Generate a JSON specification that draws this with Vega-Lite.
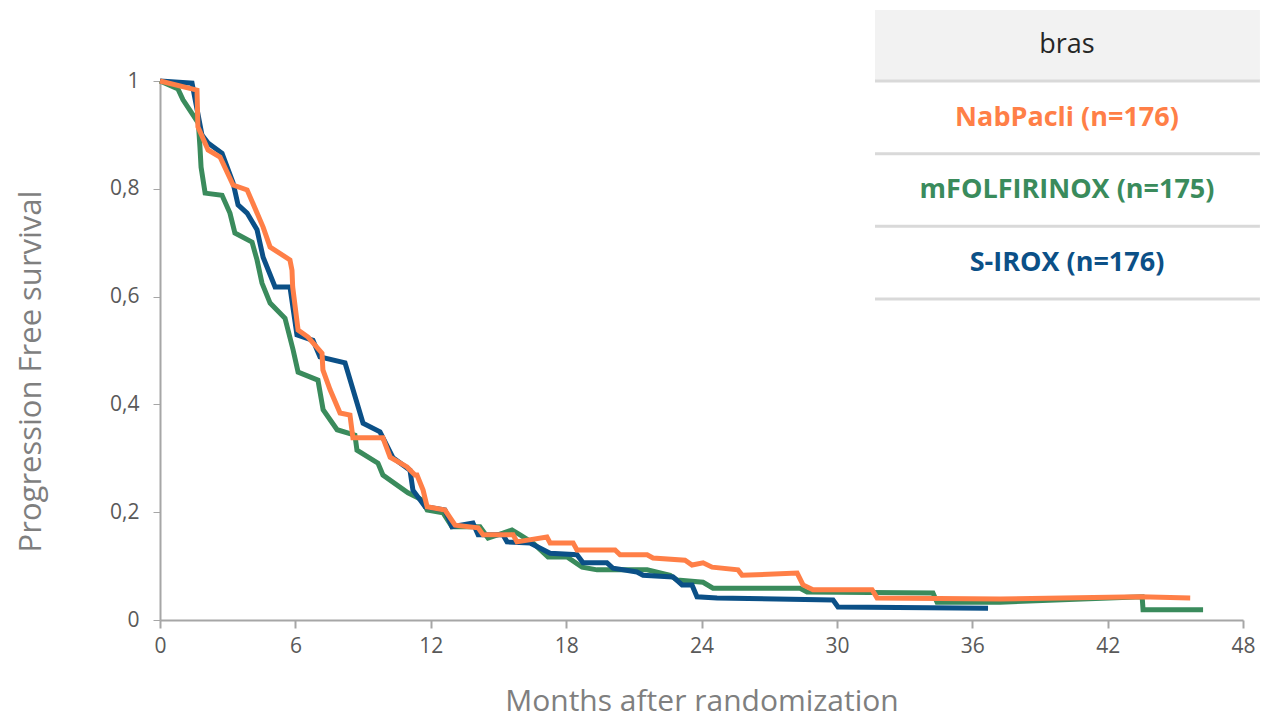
{
  "$schema": "https://vega.github.io/schema/vega-lite/v6.json",
  "width": 1083,
  "height": 539,
  "autosize": {"type": "none"},
  "padding": {"left": 160, "top": 81, "right": 18, "bottom": 102},
  "background": "white",
  "config": {"view": {"stroke": null}, "font": "Open Sans"},
  "datasets": {
    "km": [
      {"arm":"mFOLFIRINOX","month":0,"surv":1},{"arm":"mFOLFIRINOX","month":0.8,"surv":0.985},{"arm":"mFOLFIRINOX","month":1.02,"surv":0.965},{"arm":"mFOLFIRINOX","month":1.46,"surv":0.937},{"arm":"mFOLFIRINOX","month":1.7,"surv":0.922},{"arm":"mFOLFIRINOX","month":1.77,"surv":0.878},{"arm":"mFOLFIRINOX","month":1.82,"surv":0.84},{"arm":"mFOLFIRINOX","month":2.0,"surv":0.792},{"arm":"mFOLFIRINOX","month":2.75,"surv":0.788},{"arm":"mFOLFIRINOX","month":3.1,"surv":0.755},{"arm":"mFOLFIRINOX","month":3.32,"surv":0.718},{"arm":"mFOLFIRINOX","month":4.08,"surv":0.701},{"arm":"mFOLFIRINOX","month":4.3,"surv":0.668},{"arm":"mFOLFIRINOX","month":4.52,"surv":0.625},{"arm":"mFOLFIRINOX","month":4.88,"surv":0.588},{"arm":"mFOLFIRINOX","month":5.54,"surv":0.56},{"arm":"mFOLFIRINOX","month":5.9,"surv":0.501},{"arm":"mFOLFIRINOX","month":6.12,"surv":0.46},{"arm":"mFOLFIRINOX","month":7.0,"surv":0.445},{"arm":"mFOLFIRINOX","month":7.23,"surv":0.39},{"arm":"mFOLFIRINOX","month":7.85,"surv":0.353},{"arm":"mFOLFIRINOX","month":8.64,"surv":0.343},{"arm":"mFOLFIRINOX","month":8.73,"surv":0.315},{"arm":"mFOLFIRINOX","month":9.66,"surv":0.291},{"arm":"mFOLFIRINOX","month":9.88,"surv":0.269},{"arm":"mFOLFIRINOX","month":10.99,"surv":0.236},{"arm":"mFOLFIRINOX","month":11.61,"surv":0.223},{"arm":"mFOLFIRINOX","month":11.84,"surv":0.204},{"arm":"mFOLFIRINOX","month":12.54,"surv":0.199},{"arm":"mFOLFIRINOX","month":12.94,"surv":0.173},{"arm":"mFOLFIRINOX","month":14.18,"surv":0.173},{"arm":"mFOLFIRINOX","month":14.54,"surv":0.152},{"arm":"mFOLFIRINOX","month":15.2,"surv":0.161},{"arm":"mFOLFIRINOX","month":15.6,"surv":0.167},{"arm":"mFOLFIRINOX","month":15.96,"surv":0.158},{"arm":"mFOLFIRINOX","month":16.53,"surv":0.143},{"arm":"mFOLFIRINOX","month":17.2,"surv":0.117},{"arm":"mFOLFIRINOX","month":18.04,"surv":0.117},{"arm":"mFOLFIRINOX","month":18.71,"surv":0.098},{"arm":"mFOLFIRINOX","month":19.37,"surv":0.093},{"arm":"mFOLFIRINOX","month":21.59,"surv":0.093},{"arm":"mFOLFIRINOX","month":22.61,"surv":0.083},{"arm":"mFOLFIRINOX","month":22.92,"surv":0.074},{"arm":"mFOLFIRINOX","month":24.07,"surv":0.07},{"arm":"mFOLFIRINOX","month":24.51,"surv":0.059},{"arm":"mFOLFIRINOX","month":28.37,"surv":0.059},{"arm":"mFOLFIRINOX","month":28.68,"surv":0.052},{"arm":"mFOLFIRINOX","month":34.26,"surv":0.05},{"arm":"mFOLFIRINOX","month":34.44,"surv":0.033},{"arm":"mFOLFIRINOX","month":37.23,"surv":0.033},{"arm":"mFOLFIRINOX","month":43.53,"surv":0.043},{"arm":"mFOLFIRINOX","month":43.57,"surv":0.019},{"arm":"mFOLFIRINOX","month":46.23,"surv":0.019},
      {"arm":"S-IROX","month":0,"surv":1},{"arm":"S-IROX","month":1.42,"surv":0.996},{"arm":"S-IROX","month":1.86,"surv":0.9},{"arm":"S-IROX","month":2.13,"surv":0.885},{"arm":"S-IROX","month":2.75,"surv":0.866},{"arm":"S-IROX","month":3.24,"surv":0.811},{"arm":"S-IROX","month":3.46,"surv":0.77},{"arm":"S-IROX","month":3.86,"surv":0.755},{"arm":"S-IROX","month":4.3,"surv":0.724},{"arm":"S-IROX","month":4.57,"surv":0.673},{"arm":"S-IROX","month":5.1,"surv":0.618},{"arm":"S-IROX","month":5.76,"surv":0.618},{"arm":"S-IROX","month":6.07,"surv":0.529},{"arm":"S-IROX","month":6.78,"surv":0.519},{"arm":"S-IROX","month":7.09,"surv":0.488},{"arm":"S-IROX","month":8.2,"surv":0.477},{"arm":"S-IROX","month":9.0,"surv":0.365},{"arm":"S-IROX","month":9.75,"surv":0.349},{"arm":"S-IROX","month":10.33,"surv":0.301},{"arm":"S-IROX","month":11.08,"surv":0.278},{"arm":"S-IROX","month":11.21,"surv":0.241},{"arm":"S-IROX","month":11.75,"surv":0.21},{"arm":"S-IROX","month":12.63,"surv":0.204},{"arm":"S-IROX","month":12.94,"surv":0.173},{"arm":"S-IROX","month":13.87,"surv":0.18},{"arm":"S-IROX","month":14.1,"surv":0.158},{"arm":"S-IROX","month":15.2,"surv":0.158},{"arm":"S-IROX","month":15.38,"surv":0.145},{"arm":"S-IROX","month":16.4,"surv":0.143},{"arm":"S-IROX","month":17.29,"surv":0.124},{"arm":"S-IROX","month":18.48,"surv":0.121},{"arm":"S-IROX","month":18.75,"surv":0.106},{"arm":"S-IROX","month":19.81,"surv":0.106},{"arm":"S-IROX","month":20.08,"surv":0.096},{"arm":"S-IROX","month":21.14,"surv":0.089},{"arm":"S-IROX","month":21.41,"surv":0.083},{"arm":"S-IROX","month":22.74,"surv":0.08},{"arm":"S-IROX","month":23.14,"surv":0.065},{"arm":"S-IROX","month":23.58,"surv":0.065},{"arm":"S-IROX","month":23.8,"surv":0.043},{"arm":"S-IROX","month":24.69,"surv":0.041},{"arm":"S-IROX","month":29.83,"surv":0.037},{"arm":"S-IROX","month":30.05,"surv":0.024},{"arm":"S-IROX","month":36.7,"surv":0.022},
      {"arm":"NabPacli","month":0,"surv":1},{"arm":"NabPacli","month":1.64,"surv":0.983},{"arm":"NabPacli","month":1.68,"surv":0.915},{"arm":"NabPacli","month":2.13,"surv":0.872},{"arm":"NabPacli","month":2.66,"surv":0.859},{"arm":"NabPacli","month":3.24,"surv":0.807},{"arm":"NabPacli","month":3.86,"surv":0.798},{"arm":"NabPacli","month":4.57,"surv":0.729},{"arm":"NabPacli","month":4.88,"surv":0.692},{"arm":"NabPacli","month":5.76,"surv":0.668},{"arm":"NabPacli","month":5.85,"surv":0.649},{"arm":"NabPacli","month":5.88,"surv":0.618},{"arm":"NabPacli","month":6.12,"surv":0.538},{"arm":"NabPacli","month":6.56,"surv":0.525},{"arm":"NabPacli","month":7.18,"surv":0.495},{"arm":"NabPacli","month":7.22,"surv":0.464},{"arm":"NabPacli","month":7.54,"surv":0.427},{"arm":"NabPacli","month":7.98,"surv":0.384},{"arm":"NabPacli","month":8.42,"surv":0.38},{"arm":"NabPacli","month":8.55,"surv":0.338},{"arm":"NabPacli","month":9.88,"surv":0.338},{"arm":"NabPacli","month":10.2,"surv":0.302},{"arm":"NabPacli","month":10.95,"surv":0.284},{"arm":"NabPacli","month":11.3,"surv":0.269},{"arm":"NabPacli","month":11.39,"surv":0.269},{"arm":"NabPacli","month":11.66,"surv":0.241},{"arm":"NabPacli","month":11.84,"surv":0.21},{"arm":"NabPacli","month":12.63,"surv":0.204},{"arm":"NabPacli","month":13.08,"surv":0.176},{"arm":"NabPacli","month":14.1,"surv":0.171},{"arm":"NabPacli","month":14.32,"surv":0.158},{"arm":"NabPacli","month":15.65,"surv":0.158},{"arm":"NabPacli","month":15.82,"surv":0.145},{"arm":"NabPacli","month":17.15,"surv":0.154},{"arm":"NabPacli","month":17.29,"surv":0.143},{"arm":"NabPacli","month":18.31,"surv":0.143},{"arm":"NabPacli","month":18.48,"surv":0.13},{"arm":"NabPacli","month":20.17,"surv":0.13},{"arm":"NabPacli","month":20.39,"surv":0.121},{"arm":"NabPacli","month":21.59,"surv":0.121},{"arm":"NabPacli","month":21.85,"surv":0.115},{"arm":"NabPacli","month":23.27,"surv":0.111},{"arm":"NabPacli","month":23.58,"surv":0.102},{"arm":"NabPacli","month":24.07,"surv":0.106},{"arm":"NabPacli","month":24.47,"surv":0.098},{"arm":"NabPacli","month":25.62,"surv":0.093},{"arm":"NabPacli","month":25.8,"surv":0.083},{"arm":"NabPacli","month":28.24,"surv":0.087},{"arm":"NabPacli","month":28.5,"surv":0.065},{"arm":"NabPacli","month":28.94,"surv":0.056},{"arm":"NabPacli","month":31.56,"surv":0.056},{"arm":"NabPacli","month":31.78,"surv":0.041},{"arm":"NabPacli","month":37.23,"surv":0.039},{"arm":"NabPacli","month":43.44,"surv":0.043},{"arm":"NabPacli","month":45.66,"surv":0.041}
    ],
    "table": [
      {"label": "bras", "row": 0, "arm": "header"},
      {"label": "NabPacli (n=176)", "row": 1, "arm": "NabPacli"},
      {"label": "mFOLFIRINOX  (n=175)", "row": 2, "arm": "mFOLFIRINOX"},
      {"label": "S-IROX (n=176)", "row": 3, "arm": "S-IROX"}
    ]
  },
  "layer": [
    {
      "data": {"name": "km"},
      "mark": {"type": "line", "strokeWidth": 5, "strokeJoin": "miter", "strokeCap": "butt"},
      "encoding": {
        "x": {
          "field": "month", "type": "quantitative",
          "scale": {"domain": [0, 48], "nice": false},
          "axis": {
            "values": [0, 6, 12, 18, 24, 30, 36, 42, 48],
            "title": "Months after randomization",
            "titleFontSize": 30, "titleFontWeight": "normal", "titleColor": "#7f7f7f",
            "titlePadding": 30,
            "labelFontSize": 21, "labelColor": "#595959", "labelPadding": 7,
            "tickSize": 8, "tickColor": "#a6a6a6", "tickWidth": 2,
            "domainColor": "#a6a6a6", "domainWidth": 2,
            "grid": false, "labelFlush": false
          }
        },
        "y": {
          "field": "surv", "type": "quantitative",
          "scale": {"domain": [0, 1], "nice": false},
          "axis": {
            "values": [0, 0.2, 0.4, 0.6, 0.8, 1],
            "labelExpr": "replace(format(datum.value, '~g'), '.', ',')",
            "title": "Progression Free survival",
            "titleFontSize": 31, "titleFontWeight": "normal", "titleColor": "#7f7f7f",
            "titlePadding": 62, "titleY": 290,
            "labelFontSize": 21, "labelColor": "#595959", "labelPadding": 14,
            "tickSize": 7, "tickColor": "#a6a6a6", "tickWidth": 1,
            "domainColor": "#a6a6a6", "domainWidth": 2,
            "grid": false
          }
        },
        "color": {
          "field": "arm", "type": "nominal",
          "scale": {"domain": ["mFOLFIRINOX", "S-IROX", "NabPacli"], "range": ["#3A8B5C", "#0B5087", "#FF7F47"]},
          "legend": null
        }
      }
    },
    {
      "data": {"name": "table"},
      "encoding": {
        "y": {
          "field": "row", "type": "quantitative",
          "scale": {"domain": [0.4954, 7.912], "reverse": true, "nice": false, "zero": false},
          "axis": null
        }
      },
      "layer": [
        {
          "transform": [{"filter": "datum.row == 0"}],
          "mark": {"type": "rule", "strokeWidth": 70, "color": "#f2f2f2", "strokeCap": "butt"},
          "encoding": {"x": {"datum": 31.69, "type": "quantitative"}, "x2": {"datum": 48.75}}
        },
        {
          "mark": {"type": "rule", "strokeWidth": 3, "color": "#d9d9d9", "strokeCap": "butt", "yOffset": 36},
          "encoding": {"x": {"datum": 31.69, "type": "quantitative"}, "x2": {"datum": 48.75}}
        },
        {
          "transform": [{"filter": "datum.row == 0"}],
          "mark": {"type": "text", "fontSize": 27, "color": "#262626", "align": "center", "baseline": "middle"},
          "encoding": {"x": {"datum": 40.2, "type": "quantitative"}, "text": {"field": "label"}}
        },
        {
          "transform": [{"filter": "datum.row > 0"}],
          "mark": {"type": "text", "fontSize": 27, "fontWeight": "bold", "align": "center", "baseline": "middle"},
          "encoding": {
            "x": {"datum": 40.2, "type": "quantitative"},
            "text": {"field": "label"},
            "color": {"field": "arm", "type": "nominal", "legend": null}
          }
        }
      ]
    }
  ],
  "resolve": {"scale": {"y": "independent"}}
}
